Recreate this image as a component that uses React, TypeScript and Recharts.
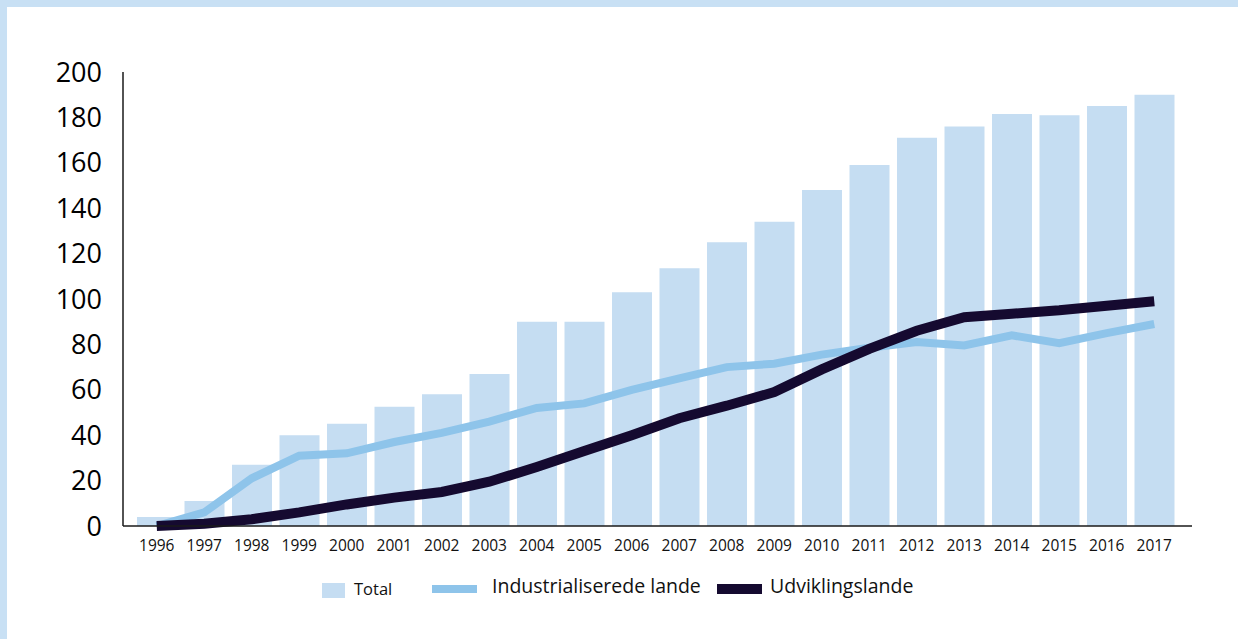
import React from 'react'
import { ComposedChart, Bar, Line, XAxis, YAxis } from 'recharts'

const years = [
  '1996', '1997', '1998', '1999', '2000', '2001', '2002', '2003', '2004', '2005', '2006',
  '2007', '2008', '2009', '2010', '2011', '2012', '2013', '2014', '2015', '2016', '2017'
]
const total = [4, 11, 27, 40, 45, 52.5, 58, 67, 90, 90, 103, 113.5, 125, 134, 148, 159, 171, 176, 181.5, 181, 185, 190]
const industrial = [0, 6, 21, 31, 32, 37, 41, 46, 52, 54, 60, 65, 70, 71.5, 75.5, 78.5, 81, 79.5, 84, 80.5, 85, 89]
const developing = [0, 1, 3, 6, 9.5, 12.5, 15, 19.5, 26, 33, 40, 47.5, 53, 59, 69, 78, 86, 92, 93.5, 95, 97, 99]
const yTicks = [0, 20, 40, 60, 80, 100, 120, 140, 160, 180, 200]

const data = years.map((year, i) => ({
  year,
  total: total[i],
  industrial: industrial[i],
  developing: developing[i]
}))

const FONT = '"Open Sans", "Noto Sans", sans-serif'
const BAR = '#c5ddf2'
const LIGHT = '#8ec4ea'
const DARK = '#150a30'
const AXIS = '#1a1a1a'

export default function App() {
  return (
    <div style={{ position: 'fixed', left: 0, top: 0, width: 1238, height: 639, background: '#c8e0f4', fontFamily: FONT }}>
      <div style={{ position: 'absolute', left: 7, top: 7, right: 0, bottom: 0, background: '#fff' }} />
      <div style={{ position: 'absolute', left: 0, top: 0 }}>
        <ComposedChart
          width={1238}
          height={639}
          data={data}
          margin={{ top: 72, right: 46, bottom: 83, left: 0 }}
        >
          <XAxis
            dataKey="year"
            padding={{ left: 10, right: 14 }}
            tickLine={false}
            tickSize={0}
            tickMargin={14}
            height={30}
            interval={0}
            stroke={AXIS}
            strokeWidth={1.5}
            tick={{ fontSize: 15.5, fill: '#111', fontFamily: FONT }}
          />
          <YAxis
            domain={[0, 200]}
            ticks={yTicks}
            width={123}
            tickLine={false}
            tickSize={0}
            tickMargin={21}
            stroke={AXIS}
            strokeWidth={1.5}
            tick={{ fontSize: 27, fill: '#000', fontFamily: FONT, fontWeight: 500 }}
          />
          <Bar dataKey="total" fill={BAR} barSize={40} isAnimationActive={false} />
          <Line
            type="linear"
            dataKey="industrial"
            stroke={LIGHT}
            strokeWidth={8}
            dot={false}
            activeDot={false}
            isAnimationActive={false}
          />
          <Line
            type="linear"
            dataKey="developing"
            stroke={DARK}
            strokeWidth={10}
            dot={false}
            activeDot={false}
            isAnimationActive={false}
          />
        </ComposedChart>
      </div>
      <div style={{ position: 'absolute', left: 322, top: 583, width: 23, height: 15, background: BAR }} />
      <div style={{ position: 'absolute', left: 354, top: 577, fontSize: 16.5, color: '#111' }}>Total</div>
      <div style={{ position: 'absolute', left: 432, top: 585, width: 45, height: 8, background: LIGHT }} />
      <div style={{ position: 'absolute', left: 492, top: 572, fontSize: 19.5, color: '#111' }}>Industrialiserede lande</div>
      <div style={{ position: 'absolute', left: 717, top: 584, width: 45, height: 10, background: DARK }} />
      <div style={{ position: 'absolute', left: 770, top: 572, fontSize: 19.5, color: '#111' }}>Udviklingslande</div>
    </div>
  )
}
